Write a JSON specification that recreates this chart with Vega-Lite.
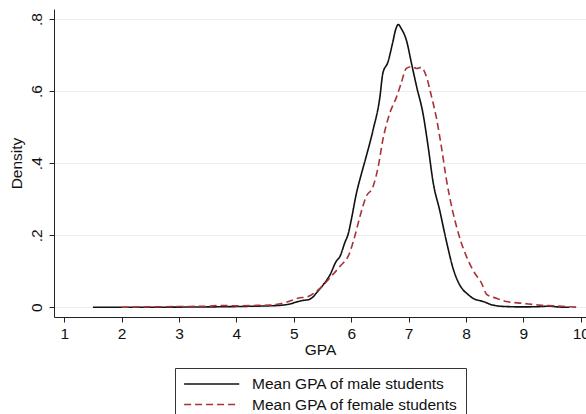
{
  "$schema": "https://vega.github.io/schema/vega-lite/v6.json",
  "width": 532,
  "height": 308,
  "autosize": "none",
  "padding": {"left": 54, "top": 9, "right": 0, "bottom": 97},
  "background": "white",
  "config": {
    "view": {"stroke": null},
    "font": "Liberation Sans"
  },
  "data": {"values": [
    {"s": "Mean GPA of male students", "gpa": 1.5, "density": 0}, {"s": "Mean GPA of male students", "gpa": 2.0, "density": 0}, {"s": "Mean GPA of male students", "gpa": 2.5, "density": 0},
    {"s": "Mean GPA of male students", "gpa": 3.0, "density": 0.0005}, {"s": "Mean GPA of male students", "gpa": 3.5, "density": 0.001}, {"s": "Mean GPA of male students", "gpa": 4.0, "density": 0.002},
    {"s": "Mean GPA of male students", "gpa": 4.3, "density": 0.003}, {"s": "Mean GPA of male students", "gpa": 4.58, "density": 0.004}, {"s": "Mean GPA of male students", "gpa": 4.8, "density": 0.006},
    {"s": "Mean GPA of male students", "gpa": 4.93, "density": 0.009}, {"s": "Mean GPA of male students", "gpa": 5.05, "density": 0.015}, {"s": "Mean GPA of male students", "gpa": 5.16, "density": 0.019},
    {"s": "Mean GPA of male students", "gpa": 5.25, "density": 0.021}, {"s": "Mean GPA of male students", "gpa": 5.33, "density": 0.028}, {"s": "Mean GPA of male students", "gpa": 5.39, "density": 0.039},
    {"s": "Mean GPA of male students", "gpa": 5.51, "density": 0.062}, {"s": "Mean GPA of male students", "gpa": 5.63, "density": 0.09}, {"s": "Mean GPA of male students", "gpa": 5.74, "density": 0.128},
    {"s": "Mean GPA of male students", "gpa": 5.8, "density": 0.14}, {"s": "Mean GPA of male students", "gpa": 5.89, "density": 0.18}, {"s": "Mean GPA of male students", "gpa": 5.95, "density": 0.205},
    {"s": "Mean GPA of male students", "gpa": 6.0, "density": 0.242}, {"s": "Mean GPA of male students", "gpa": 6.09, "density": 0.316}, {"s": "Mean GPA of male students", "gpa": 6.18, "density": 0.372},
    {"s": "Mean GPA of male students", "gpa": 6.26, "density": 0.418}, {"s": "Mean GPA of male students", "gpa": 6.38, "density": 0.492}, {"s": "Mean GPA of male students", "gpa": 6.5, "density": 0.584},
    {"s": "Mean GPA of male students", "gpa": 6.55, "density": 0.649}, {"s": "Mean GPA of male students", "gpa": 6.64, "density": 0.681}, {"s": "Mean GPA of male students", "gpa": 6.72, "density": 0.733},
    {"s": "Mean GPA of male students", "gpa": 6.78, "density": 0.774}, {"s": "Mean GPA of male students", "gpa": 6.82, "density": 0.785}, {"s": "Mean GPA of male students", "gpa": 6.87, "density": 0.774},
    {"s": "Mean GPA of male students", "gpa": 6.96, "density": 0.742}, {"s": "Mean GPA of male students", "gpa": 7.05, "density": 0.677}, {"s": "Mean GPA of male students", "gpa": 7.14, "density": 0.612},
    {"s": "Mean GPA of male students", "gpa": 7.25, "density": 0.538}, {"s": "Mean GPA of male students", "gpa": 7.34, "density": 0.446}, {"s": "Mean GPA of male students", "gpa": 7.43, "density": 0.344},
    {"s": "Mean GPA of male students", "gpa": 7.54, "density": 0.27}, {"s": "Mean GPA of male students", "gpa": 7.66, "density": 0.182}, {"s": "Mean GPA of male students", "gpa": 7.78, "density": 0.105},
    {"s": "Mean GPA of male students", "gpa": 7.89, "density": 0.062}, {"s": "Mean GPA of male students", "gpa": 7.95, "density": 0.048}, {"s": "Mean GPA of male students", "gpa": 8.01, "density": 0.039},
    {"s": "Mean GPA of male students", "gpa": 8.12, "density": 0.025}, {"s": "Mean GPA of male students", "gpa": 8.3, "density": 0.016}, {"s": "Mean GPA of male students", "gpa": 8.47, "density": 0.006},
    {"s": "Mean GPA of male students", "gpa": 8.7, "density": 0.002}, {"s": "Mean GPA of male students", "gpa": 9.0, "density": 0.001}, {"s": "Mean GPA of male students", "gpa": 9.3, "density": 0.002},
    {"s": "Mean GPA of male students", "gpa": 9.45, "density": 0.003}, {"s": "Mean GPA of male students", "gpa": 9.6, "density": 0.001}, {"s": "Mean GPA of male students", "gpa": 9.8, "density": 0},
    {"s": "Mean GPA of female students", "gpa": 2.0, "density": 0}, {"s": "Mean GPA of female students", "gpa": 2.5, "density": 0.001}, {"s": "Mean GPA of female students", "gpa": 3.0, "density": 0.002},
    {"s": "Mean GPA of female students", "gpa": 3.5, "density": 0.003}, {"s": "Mean GPA of female students", "gpa": 3.7, "density": 0.005}, {"s": "Mean GPA of female students", "gpa": 4.0, "density": 0.004},
    {"s": "Mean GPA of female students", "gpa": 4.3, "density": 0.005}, {"s": "Mean GPA of female students", "gpa": 4.58, "density": 0.006}, {"s": "Mean GPA of female students", "gpa": 4.87, "density": 0.014},
    {"s": "Mean GPA of female students", "gpa": 5.07, "density": 0.025}, {"s": "Mean GPA of female students", "gpa": 5.25, "density": 0.03}, {"s": "Mean GPA of female students", "gpa": 5.45, "density": 0.052},
    {"s": "Mean GPA of female students", "gpa": 5.63, "density": 0.082}, {"s": "Mean GPA of female students", "gpa": 5.8, "density": 0.113}, {"s": "Mean GPA of female students", "gpa": 5.97, "density": 0.15},
    {"s": "Mean GPA of female students", "gpa": 6.06, "density": 0.196}, {"s": "Mean GPA of female students", "gpa": 6.15, "density": 0.251}, {"s": "Mean GPA of female students", "gpa": 6.26, "density": 0.307},
    {"s": "Mean GPA of female students", "gpa": 6.38, "density": 0.335}, {"s": "Mean GPA of female students", "gpa": 6.47, "density": 0.39}, {"s": "Mean GPA of female students", "gpa": 6.55, "density": 0.464},
    {"s": "Mean GPA of female students", "gpa": 6.67, "density": 0.538}, {"s": "Mean GPA of female students", "gpa": 6.79, "density": 0.584}, {"s": "Mean GPA of female students", "gpa": 6.87, "density": 0.622},
    {"s": "Mean GPA of female students", "gpa": 6.96, "density": 0.663}, {"s": "Mean GPA of female students", "gpa": 7.05, "density": 0.668}, {"s": "Mean GPA of female students", "gpa": 7.14, "density": 0.663},
    {"s": "Mean GPA of female students", "gpa": 7.22, "density": 0.666}, {"s": "Mean GPA of female students", "gpa": 7.31, "density": 0.64}, {"s": "Mean GPA of female students", "gpa": 7.4, "density": 0.584},
    {"s": "Mean GPA of female students", "gpa": 7.48, "density": 0.529}, {"s": "Mean GPA of female students", "gpa": 7.57, "density": 0.446}, {"s": "Mean GPA of female students", "gpa": 7.66, "density": 0.353},
    {"s": "Mean GPA of female students", "gpa": 7.77, "density": 0.265}, {"s": "Mean GPA of female students", "gpa": 7.85, "density": 0.215}, {"s": "Mean GPA of female students", "gpa": 7.92, "density": 0.178},
    {"s": "Mean GPA of female students", "gpa": 8.01, "density": 0.14}, {"s": "Mean GPA of female students", "gpa": 8.12, "density": 0.103}, {"s": "Mean GPA of female students", "gpa": 8.27, "density": 0.067},
    {"s": "Mean GPA of female students", "gpa": 8.36, "density": 0.036}, {"s": "Mean GPA of female students", "gpa": 8.53, "density": 0.025}, {"s": "Mean GPA of female students", "gpa": 8.7, "density": 0.016},
    {"s": "Mean GPA of female students", "gpa": 8.99, "density": 0.011}, {"s": "Mean GPA of female students", "gpa": 9.28, "density": 0.006}, {"s": "Mean GPA of female students", "gpa": 9.52, "density": 0.004},
    {"s": "Mean GPA of female students", "gpa": 9.95, "density": 0}
  ]},
  "mark": {"type": "line", "strokeWidth": 1.6, "clip": true, "interpolate": "monotone"},
  "encoding": {
    "x": {
      "field": "gpa", "type": "quantitative",
      "scale": {"domain": [0.822, 10.09], "nice": false, "zero": false},
      "axis": {
        "title": "GPA", "values": [1, 2, 3, 4, 5, 6, 7, 8, 9, 10],
        "grid": false, "domainColor": "#222", "tickColor": "#222", "tickSize": 5,
        "labelFontSize": 15.5, "labelColor": "#111", "labelPadding": 4, "labelFlush": false,
        "titleFontSize": 15.5, "titleFontWeight": "normal", "titleColor": "#111", "titlePadding": 1
      }
    },
    "y": {
      "field": "density", "type": "quantitative",
      "scale": {"domain": [-0.027, 0.828], "nice": false, "zero": false},
      "axis": {
        "title": "Density", "values": [0, 0.2, 0.4, 0.6, 0.8],
        "labelExpr": "datum.value == 0 ? '0' : substring(format(datum.value, '.1f'), 1)",
        "labelAngle": -90, "labelAlign": "center", "labelBaseline": "bottom",
        "grid": true, "gridColor": "#E8F0F4", "gridWidth": 1.2,
        "domainColor": "#222", "tickColor": "#222", "tickSize": 5,
        "labelFontSize": 15.5, "labelColor": "#111", "labelPadding": 5,
        "titleFontSize": 15.5, "titleFontWeight": "normal", "titleColor": "#111", "titlePadding": 5
      }
    },
    "color": {
      "field": "s", "type": "nominal",
      "scale": {"domain": ["Mean GPA of male students", "Mean GPA of female students"], "range": ["#111111", "#A83237"]},
      "legend": {
        "orient": "none", "legendX": 121, "legendY": 359, "direction": "vertical",
        "title": null, "symbolType": "M-1,0H7", "symbolSize": 190, "symbolStrokeWidth": 1.6,
        "labelFontSize": 15.5, "labelColor": "#111", "labelOffset": 53, "labelLimit": 400,
        "strokeColor": "#333", "padding": 8, "rowPadding": 3.5, "fillColor": "white"
      }
    },
    "strokeDash": {
      "field": "s", "type": "nominal",
      "scale": {"domain": ["Mean GPA of male students", "Mean GPA of female students"], "range": [[1, 0], [7, 4]]}
    }
  }
}
